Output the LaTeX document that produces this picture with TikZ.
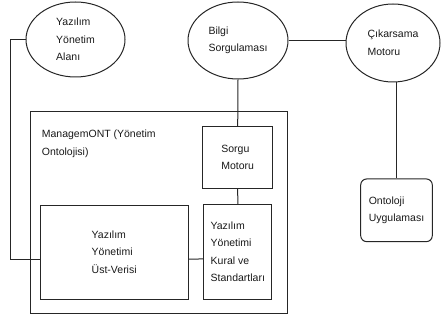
\documentclass[tikz,border=0pt]{standalone}
\usepackage{fontspec}
\setmainfont{Liberation Sans}
\usetikzlibrary{shapes.geometric}

\begin{document}
\begin{tikzpicture}[x=1pt, y=-1pt,
  txt/.style={font=\fontsize{10.5}{17.5}\selectfont, text=black!90, align=left},
  oval/.style={txt, draw=black!85, line width=1pt, ellipse, inner sep=0pt},
  kutu/.style={txt, draw=black!85, line width=1pt, rectangle, inner sep=0pt},
  hat/.style={draw=black!85, line width=1pt}]

\useasboundingbox (0,0) rectangle (441,320);

% -------- ovals -----------
\node [oval, minimum width=99, minimum height=75]  (alan)  at (75.5,39.5)  {Yazılım\\Yönetim\\Alanı};
\node [oval, minimum width=100, minimum height=77] (bilgi) at (238,40.5)   {Bilgi\\Sorgulaması};
\node [oval, minimum width=94, minimum height=78]  (cikar) at (393,43)     {Çıkarsama\\Motoru};

% -------- ontology box -----------
\node [kutu, minimum width=257, minimum height=202] (mgmt) at (159.3,212.2) {};
\node [txt, inner sep=0pt, anchor=west] (mgmtlbl) at (41.7,144) {ManagemONT (Yönetim\\Ontolojisi)};

\node [kutu, minimum width=70, minimum height=61.6]  (sorgu)  at (237.7,157.5) {Sorgu\\Motoru};
\node [kutu, minimum width=67.7, minimum height=94.8] (kural) at (237.8,251.9) {Yazılım\\Yönetimi\\Kural ve\\Standartları};
\node [kutu, minimum width=148.3, minimum height=94.3] (ust)  at (114.2,252.2) {Yazılım\\Yönetimi\\Üst-Verisi};
\node [kutu, rounded corners=6pt, minimum width=71.6, minimum height=62.7] (onto) at (396.5,210.3) {Ontoloji\\Uygulaması};

% -------- connectors -----------
\draw [hat] (alan.west) -- ++(-15,0) |- ([yshift=-7pt]ust.west);
\draw [hat] ([yshift=-7pt]ust.east) -- ([yshift=-7pt]kural.west);
\draw [hat] (bilgi.south) -- (sorgu.north);
\draw [hat] (sorgu.south) -- (kural.north);
\draw [hat] (bilgi.east) -- (bilgi.east -| cikar.west);
\draw [hat] (onto.north |- cikar.south) -- (onto.north);

\end{tikzpicture}
\end{document}
